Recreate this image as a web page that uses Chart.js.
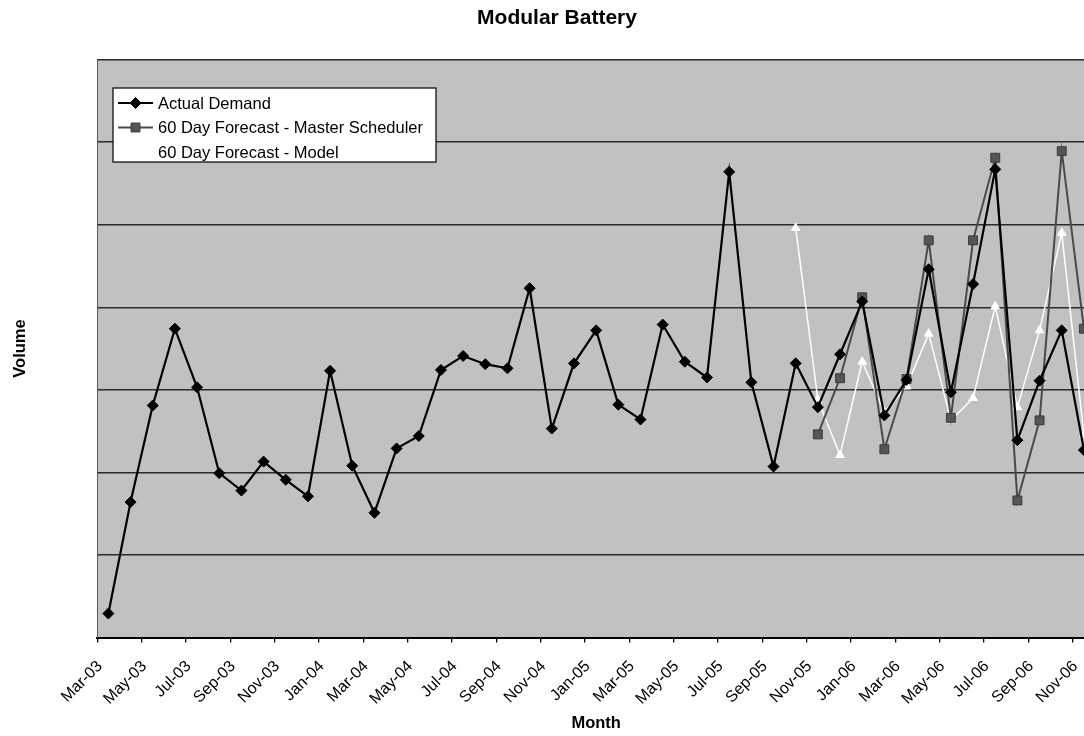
<!DOCTYPE html>
<html>
<head>
<meta charset="utf-8">
<script src="https://cdn.jsdelivr.net/npm/chart.js@4.4.0/dist/chart.umd.min.js"></script>
<style>
  html, body { margin: 0; padding: 0; background: #ffffff; overflow: hidden; }
  #wrap { position: relative; width: 1114px; height: 736px; }
</style>
</head>
<body>
<div id="wrap"><canvas id="c" width="1114" height="736"></canvas></div>
<script>
// Monthly categories, Mar-03 .. Nov-06
const months = [
  'Mar-03','Apr-03','May-03','Jun-03','Jul-03','Aug-03','Sep-03','Oct-03','Nov-03','Dec-03',
  'Jan-04','Feb-04','Mar-04','Apr-04','May-04','Jun-04','Jul-04','Aug-04','Sep-04','Oct-04','Nov-04','Dec-04',
  'Jan-05','Feb-05','Mar-05','Apr-05','May-05','Jun-05','Jul-05','Aug-05','Sep-05','Oct-05','Nov-05','Dec-05',
  'Jan-06','Feb-06','Mar-06','Apr-06','May-06','Jun-06','Jul-06','Aug-06','Sep-06','Oct-06','Nov-06'
];

// Actual demand volume per month
const actualDemand = [
  29, 164, 281, 374, 303, 199, 178, 213, 191, 171,
  323, 208, 151, 229, 244, 324, 341, 331, 326, 423, 253, 332,
  372, 282, 264, 379, 334, 315, 564, 309, 207, 332, 279, 343,
  407, 269, 312, 446, 297, 428, 567, 239, 311, 372, 227
];

// 60 day forecast from the master scheduler (starts Nov-05)
const masterForecast = [
  null, null, null, null, null, null, null, null, null, null,
  null, null, null, null, null, null, null, null, null, null, null, null,
  null, null, null, null, null, null, null, null, null, null, 246, 314,
  412, 228, 313, 481, 266, 481, 581, 166, 263, 589, 374
];

// 60 day forecast from the model (starts Oct-05)
const modelForecast = [
  null, null, null, null, null, null, null, null, null, null,
  null, null, null, null, null, null, null, null, null, null, null, null,
  null, null, null, null, null, null, null, null, null, 496, 288, 221,
  334, 273, 304, 368, 263, 290, 401, 279, 372, 490, 245
];

// Value axis range (no labels shown)
const volumeMin = 0;
const volumeMax = 700;
const volumeStep = 100;

const FONT = "'Liberation Sans', Arial, Helvetica, sans-serif";

// Grey plot-area fill behind the series
const plotBackground = {
  id: 'plotBackground',
  beforeDraw(chart) {
    const { ctx, chartArea: a } = chart;
    ctx.save();
    ctx.fillStyle = '#c1c1c1';
    ctx.fillRect(a.left, a.top, a.right - a.left, a.bottom - a.top);
    ctx.restore();
  }
};

// Boxed legend placed inside the plot area, top-left
const insetLegend = {
  id: 'insetLegend',
  afterDatasetsDraw(chart) {
    const { ctx } = chart;
    const box = { x: 113, y: 88, w: 323, h: 74 };
    ctx.save();
    ctx.fillStyle = '#ffffff';
    ctx.fillRect(box.x, box.y, box.w, box.h);
    ctx.strokeStyle = '#111111';
    ctx.lineWidth = 1.3;
    ctx.strokeRect(box.x, box.y, box.w, box.h);
    const rows = [103, 127.5, 152];
    chart.data.datasets.forEach((ds, i) => {
      const y = rows[i];
      ctx.strokeStyle = ds.borderColor;
      ctx.lineWidth = ds.borderWidth;
      ctx.beginPath();
      ctx.moveTo(118, y);
      ctx.lineTo(153, y);
      ctx.stroke();
      ctx.fillStyle = ds.pointBackgroundColor;
      ctx.strokeStyle = ds.pointBorderColor;
      ctx.lineWidth = ds.pointBorderWidth;
      Chart.helpers.drawPoint(ctx, {
        pointStyle: ds.pointStyle,
        radius: ds.pointRadius,
        borderWidth: ds.pointBorderWidth,
        rotation: 0
      }, 135.5, y);
      ctx.fillStyle = '#000000';
      ctx.font = '16.5px ' + FONT;
      ctx.textBaseline = 'middle';
      ctx.textAlign = 'left';
      ctx.fillText(ds.label, 158, y + 1);
    });
    ctx.restore();
  }
};

new Chart(document.getElementById('c'), {
  type: 'line',
  data: {
    labels: months,
    datasets: [
      {
        label: 'Actual Demand',
        data: actualDemand,
        borderColor: '#000000',
        borderWidth: 2.2,
        pointStyle: 'rectRot',
        pointRadius: 5.5,
        pointBackgroundColor: '#000000',
        pointBorderColor: '#000000',
        pointBorderWidth: 1,
        tension: 0,
        order: 1
      },
      {
        label: '60 Day Forecast - Master Scheduler',
        data: masterForecast,
        borderColor: '#4a4a4a',
        borderWidth: 2,
        pointStyle: 'rect',
        pointRadius: 6.3,
        pointBackgroundColor: '#555555',
        pointBorderColor: '#3a3a3a',
        pointBorderWidth: 1,
        tension: 0,
        order: 2
      },
      {
        label: '60 Day Forecast - Model',
        data: modelForecast,
        borderColor: '#ffffff',
        borderWidth: 1.5,
        pointStyle: 'triangle',
        pointRadius: 5,
        pointBackgroundColor: '#ffffff',
        pointBorderColor: '#ffffff',
        pointBorderWidth: 1,
        tension: 0,
        order: 3
      }
    ]
  },
  options: {
    responsive: false,
    animation: false,
    devicePixelRatio: 1,
    layout: { padding: 0 },
    plugins: {
      legend: { display: false },
      tooltip: { enabled: false },
      title: {
        display: true,
        text: 'Modular Battery',
        color: '#000000',
        font: { family: FONT, size: 21, weight: 'bold' },
        padding: { top: 6, bottom: 28.3 }
      }
    },
    scales: {
      x: {
        type: 'category',
        offset: true,
        afterFit(scale) { scale.height = 98.5; },
        grid: {
          offset: true,
          drawOnChartArea: false,
          drawTicks: true,
          tickLength: 5,
          lineWidth: 1.3,
          color: (ctx) => (ctx.index % 2 === 0 ? '#000000' : 'rgba(0,0,0,0)')
        },
        border: { display: true, color: '#000000', width: 2 },
        ticks: {
          autoSkip: false,
          minRotation: 45,
          maxRotation: 45,
          padding: 14.5,
          labelOffset: -8.5,
          color: '#000000',
          font: { family: FONT, size: 16 },
          callback: (val, idx) => (idx % 2 === 0 ? months[idx] : '')
        },
        title: {
          display: true,
          text: 'Month',
          color: '#000000',
          font: { family: FONT, size: 16.5, weight: 'bold' },
          padding: { top: 0, bottom: 3 }
        }
      },
      y: {
        min: volumeMin,
        max: volumeMax,
        afterFit(scale) { scale.width = 97.3; },
        grid: {
          drawTicks: false,
          color: '#2b2b2b',
          lineWidth: 1.4
        },
        border: { display: true, color: '#5a5a5a', width: 1 },
        ticks: { display: false, stepSize: volumeStep },
        title: {
          display: true,
          text: 'Volume',
          color: '#000000',
          font: { family: FONT, size: 16.5, weight: 'bold' },
          padding: { top: 11, bottom: 0 }
        }
      },
      // empty right-hand margin of the plot
      yRight: {
        position: 'right',
        min: volumeMin,
        max: volumeMax,
        afterFit(scale) { scale.width = 19; },
        grid: { display: false },
        border: { display: false },
        ticks: { display: false }
      }
    }
  },
  plugins: [plotBackground, insetLegend]
});
</script>
</body>
</html>
